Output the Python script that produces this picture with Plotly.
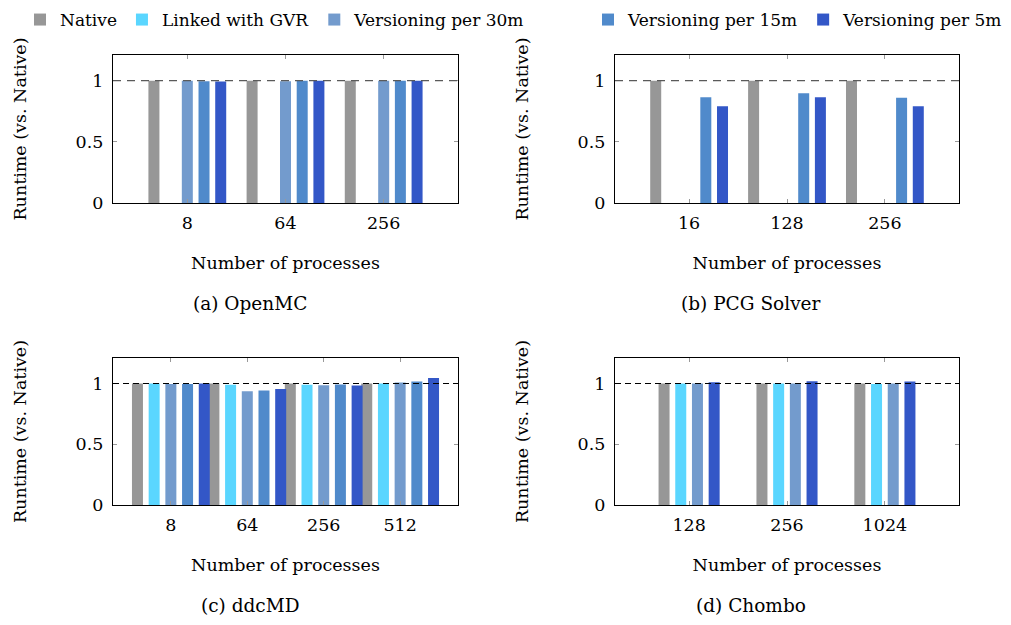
import plotly.graph_objects as go

# ---------------- data ----------------
series_names = ["Native", "Linked with GVR", "Versioning per 30m",
                "Versioning per 15m", "Versioning per 5m"]
series_colors = ["#979797", "#5ad6ff", "#739bcd", "#508acb", "#3357c7"]

# (a) OpenMC
openmc_procs = ["8", "64", "256"]
openmc_native = [1.0, 1.0, 1.0]
openmc_gvr = [None, None, None]
openmc_v30 = [1.0, 0.995, 1.0]
openmc_v15 = [0.995, 1.0, 1.0]
openmc_v5 = [0.993, 1.0, 1.0]

# (b) PCG Solver
pcg_procs = ["16", "128", "256"]
pcg_native = [1.0, 1.0, 1.0]
pcg_gvr = [None, None, None]
pcg_v30 = [None, None, None]
pcg_v15 = [0.864, 0.897, 0.861]
pcg_v5 = [0.79, 0.864, 0.79]

# (c) ddcMD
ddcmd_procs = ["8", "64", "256", "512"]
ddcmd_native = [1.0, 1.0, 1.0, 1.0]
ddcmd_gvr = [1.0, 0.989, 0.989, 1.0]
ddcmd_v30 = [0.997, 0.937, 0.986, 1.008]
ddcmd_v15 = [0.997, 0.943, 0.992, 1.016]
ddcmd_v5 = [1.0, 0.954, 0.984, 1.046]

# (d) Chombo
chombo_procs = ["128", "256", "1024"]
chombo_native = [1.0, 1.0, 1.0]
chombo_gvr = [1.0, 1.0, 0.997]
chombo_v30 = [1.0, 1.0, 1.0]
chombo_v5 = [1.011, 1.019, 1.016]

x_title = "Number of processes"
y_title = "Runtime (vs. Native)"
y_ticks = [0, 0.5, 1]
y_ticktext = ["0", "0.5", "1"]

# ---------------- layout helpers ----------------
W, H = 1011, 625
OFF = 8  # page body margin in the browser
FONT = "DejaVu Serif"
FS = 17.5
LFS = 17


def px_x(X):
    return (X - OFF) / W


def px_y(Y):
    return 1 - (Y - OFF) / H


panels = [
    dict(ax="", cats=openmc_procs, caption="(a) OpenMC",
         series=[openmc_native, openmc_gvr, openmc_v30, openmc_v15, openmc_v5],
         names=series_names, box=(113, 458, 55, 203),
         dash=dict(color="#5a5a5a", dash="8px,6px")),
    dict(ax="2", cats=pcg_procs, caption="(b) PCG Solver",
         series=[pcg_native, pcg_gvr, pcg_v30, pcg_v15, pcg_v5],
         names=series_names, box=(615, 959, 55, 203),
         dash=dict(color="#5a5a5a", dash="8px,6px")),
    dict(ax="3", cats=ddcmd_procs, caption="(c) ddcMD",
         series=[ddcmd_native, ddcmd_gvr, ddcmd_v30, ddcmd_v15, ddcmd_v5],
         names=series_names, box=(113, 458, 358, 505),
         dash=dict(color="#000000", dash="6px,4px")),
    dict(ax="4", cats=chombo_procs, caption="(d) Chombo",
         series=[chombo_native, chombo_gvr, chombo_v30, chombo_v5],
         names=[series_names[0], series_names[1], series_names[2], series_names[4]],
         box=(615, 959, 358, 505),
         dash=dict(color="#000000", dash="6px,4px")),
]

SLOT_PX = 16.7
BAR_PX = 11.0
ENLARGE = 0.757
YMAX = 1.21

fig = go.Figure()
layout = dict(
    width=W, height=H, margin=dict(l=0, r=0, t=0, b=0, autoexpand=False),
    paper_bgcolor="white", plot_bgcolor="white",
    barmode="overlay",
    font=dict(family=FONT, size=FS, color="black"),
    shapes=[], annotations=[],
)

for p in panels:
    x0, x1, ytop, ybot = p["box"]
    ncat = len(p["cats"])
    lo, hi = -ENLARGE, ncat - 1 + ENLARGE
    ppu = (x1 - x0) / (hi - lo)
    slot = SLOT_PX / ppu
    bw = BAR_PX / ppu
    n = len(p["series"])
    xa = "x" + p["ax"]
    ya = "y" + p["ax"]
    for k, (vals, name) in enumerate(zip(p["series"], p["names"])):
        idx = series_names.index(name)
        center = (k - (n - 1) / 2) * slot
        fig.add_trace(go.Bar(
            x=p["cats"], y=vals, xaxis=xa, yaxis=ya,
            offset=center - bw / 2, width=bw,
            marker=dict(color=series_colors[idx], line=dict(width=0)),
            name=name, legendgroup=name,
            showlegend=(p["ax"] == ""),
            legend="legend" if idx < 3 else "legend2",
        ))
    layout["xaxis" + p["ax"]] = dict(
        domain=[px_x(x0), px_x(x1)], anchor=ya, type="category", automargin=False,
        range=[lo, hi], showline=True, linecolor="black", linewidth=1.3,
        mirror="ticks", ticks="inside", ticklen=4, tickcolor="#999999",
        showgrid=False, zeroline=False, ticklabelstandoff=4,
        tickfont=dict(size=FS),
        title=dict(text=x_title, standoff=24, font=dict(size=FS)),
    )
    layout["yaxis" + p["ax"]] = dict(
        domain=[px_y(ybot), px_y(ytop)], anchor=xa, automargin=False,
        range=[0, YMAX], tickvals=y_ticks, ticktext=y_ticktext,
        showline=True, linecolor="black", linewidth=1.3,
        mirror="ticks", ticks="inside", ticklen=4, tickcolor="#999999",
        showgrid=False, zeroline=False, ticklabelstandoff=5,
        tickfont=dict(size=FS),
        title=dict(text=y_title, standoff=44, font=dict(size=FS)),
    )
    layout["shapes"].append(dict(
        type="line", xref=xa + " domain", x0=0, x1=1, yref=ya, y0=1, y1=1,
        line=dict(color=p["dash"]["color"], width=1.2, dash=p["dash"]["dash"]),
        layer="above",
    ))
    cx = 250 if x0 < 500 else 751
    layout["annotations"].append(dict(
        text=p["caption"], xref="paper", yref="paper",
        x=px_x(cx), y=px_y(ybot + 100), showarrow=False,
        xanchor="center", yanchor="middle", font=dict(size=FS + 1),
    ))

layout["legend"] = dict(orientation="h", x=12 / W, y=1 + 6 / H, xanchor="left", yanchor="top",
                        font=dict(size=LFS), itemwidth=30, bgcolor="rgba(0,0,0,0)")
layout["legend2"] = dict(orientation="h", x=580 / W, y=1 + 6 / H, xanchor="left", yanchor="top",
                         font=dict(size=LFS), itemwidth=30, bgcolor="rgba(0,0,0,0)")

fig.update_layout(**layout)
fig.write_html("out.html")
